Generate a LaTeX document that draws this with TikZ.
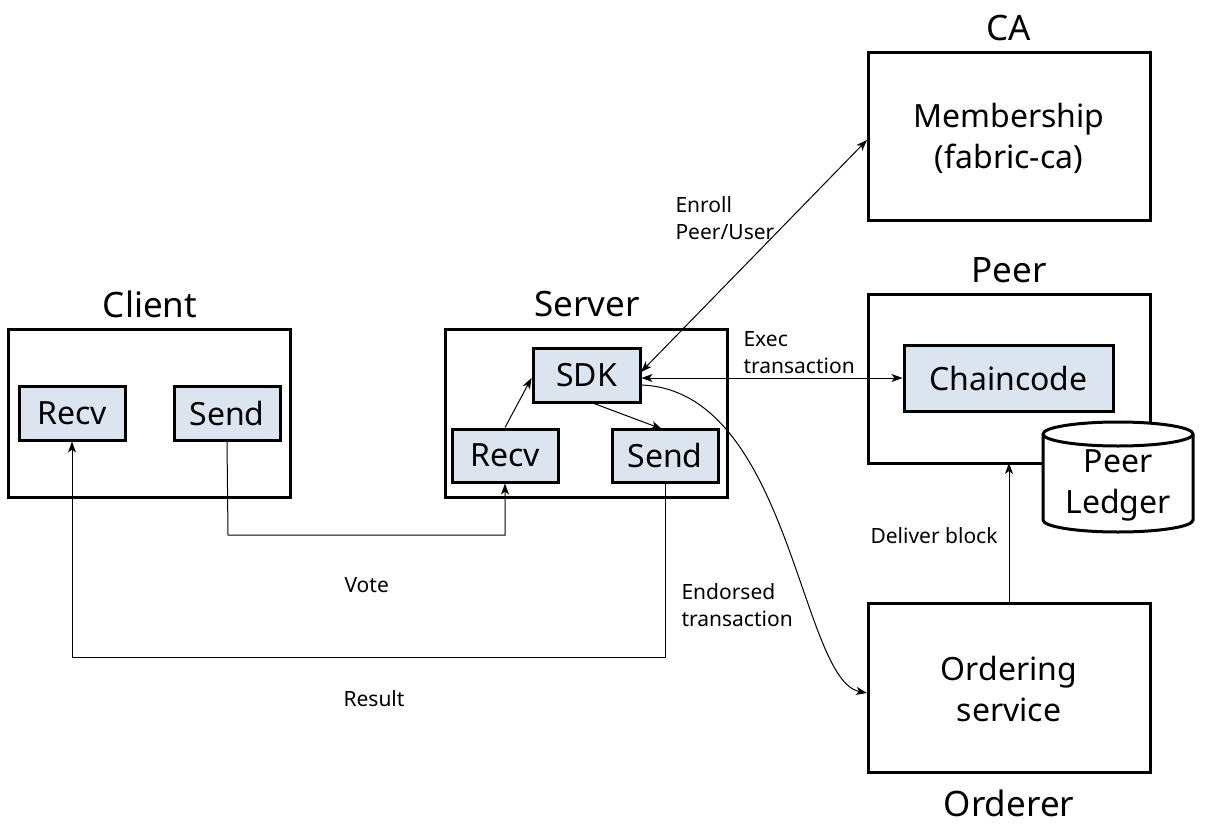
\documentclass[tikz,border=0pt]{standalone}
\usepackage{fontspec}
\setmainfont{Noto Sans}
\usetikzlibrary{arrows.meta}
\definecolor{inner}{RGB}{220,228,240}
\tikzset{
  outerbox/.style={draw, line width=3pt, fill=white},
  innerbox/.style={draw, line width=3pt, fill=inner, inner sep=0pt},
  conn/.style={line width=1pt},
  tip/.style={-{Stealth[length=11pt,width=8pt,inset=3pt]}},
  dtip/.style={{Stealth[length=11pt,width=8pt,inset=3pt]}-{Stealth[length=11pt,width=8pt,inset=3pt]}},
  title/.style={font=\fontsize{35}{40}\selectfont},
  boxtext/.style={font=\fontsize{32}{41}\selectfont, align=center},
  lbl/.style={font=\fontsize{21}{27}\selectfont, align=left}
}
\begin{document}
\begin{tikzpicture}[x=1pt,y=-1pt]
\useasboundingbox (0,0) rectangle (1210,824);
% CA
\node[title] (catitle) at (1009,28) {CA};
\draw[outerbox] (868,53) rectangle (1150,220);
\node[boxtext] (membership) at (1009,138) {Membership\\(fabric-ca)};
% Peer
\node[title] (peertitle) at (1009,270) {Peer};
\draw[outerbox] (868,294) rectangle (1150,463);
\node[innerbox, minimum width=209, minimum height=66, boxtext] (chaincode) at (1008.5,378) {Chaincode};
% cylinder
\draw[line width=3pt, fill=white] (1043,434) -- (1043,520) arc[start angle=180, end angle=0, x radius=75, y radius=12] -- (1193,434) arc[start angle=0, end angle=-180, x radius=75, y radius=12] -- cycle;
\draw[line width=3pt] (1043,434) arc[start angle=180, end angle=0, x radius=75, y radius=12];
\node[boxtext] (ledger) at (1118,485) {Peer\\Ledger};
% Orderer
\draw[outerbox] (868,603) rectangle (1150,772);
\node[boxtext] (ordering) at (1009,689) {Ordering\\service};
\node[title] (orderertitle) at (1009,803) {Orderer};
% Client
\node[title] (clienttitle) at (150,304) {Client};
\draw[outerbox] (8,329) rectangle (290,497);
\node[innerbox, minimum width=106, minimum height=54, boxtext] (crecv) at (72,413) {Recv};
\node[innerbox, minimum width=106, minimum height=54, boxtext] (csend) at (227,413) {Send};
% Server
\node[title] (servertitle) at (587,304) {Server};
\draw[outerbox] (445,329) rectangle (727,497);
\node[innerbox, minimum width=107, minimum height=54, boxtext] (sdk) at (586.5,375) {SDK};
\node[innerbox, minimum width=106, minimum height=53, boxtext] (srecv) at (505,455.5) {Recv};
\node[innerbox, minimum width=106, minimum height=53, boxtext] (ssend) at (665,455.5) {Send};
% connectors
\draw[conn, tip] (csend.south) -- (228,535) -| (srecv.south);
\draw[conn, tip] (ssend.south) -- (665,657) -| (crecv.south);
\draw[conn, tip] (srecv.north) -- (sdk.west |- 0,378);
\draw[conn, tip] (590,402) -- (662,429);
\coordinate (caleft) at (867,140);
\draw[conn, dtip] (641,372) -- (caleft);
\draw[conn, dtip] (sdk.east |- 0,378) -- (chaincode.west);
\coordinate (ordleft) at (867,693);
\draw[conn, tip] (641,385) .. controls (790,390) and (800,680) .. (ordleft);
\coordinate (peerbottom) at (1009,463);
\draw[conn, tip] (1009,603) -- (peerbottom);
% labels
\node[lbl, anchor=west] (vote) at (341,585) {Vote};
\node[lbl, anchor=west] (result) at (340,699) {Result};
\node[lbl, anchor=west] (endorsed) at (678,605) {Endorsed\\transaction};
\node[lbl, anchor=west] (enroll) at (672,218) {Enroll\\Peer/User};
\node[lbl, anchor=west] (exec) at (740,353) {Exec\\transaction};
\node[lbl, anchor=west] (deliver) at (867,536) {Deliver block};
\end{tikzpicture}
\end{document}
